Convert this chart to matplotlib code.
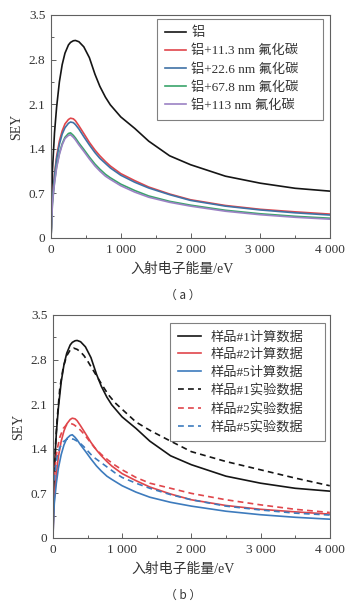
import matplotlib
matplotlib.use("Agg")
import matplotlib.pyplot as plt
from matplotlib.ticker import MultipleLocator

plt.rcParams["font.family"] = ["Liberation Serif", "Noto Sans CJK SC"]
plt.rcParams["axes.unicode_minus"] = False

# ── 数据 ──────────────────────────────────────────
# (a) 计算曲线, 公共能量网格
energy = [0, 20, 50, 80, 120, 160, 200, 250, 280, 320, 350, 400, 470, 550, 630,
          700, 780, 850, 1000, 1200, 1400, 1700, 2000, 2500, 3000, 3500, 4000]
sey_al = [0, 1.05, 1.65, 2.05, 2.45, 2.72, 2.90, 3.03, 3.07, 3.095, 3.10, 3.08, 3.00,
          2.83, 2.57, 2.38, 2.21, 2.09, 1.90, 1.72, 1.52, 1.29, 1.15, 0.97, 0.86, 0.78, 0.735]
sey_113a = [0, 0.62, 1.00, 1.28, 1.52, 1.68, 1.79, 1.86, 1.88, 1.87, 1.84, 1.76, 1.64,
            1.50, 1.38, 1.29, 1.20, 1.13, 1.01, 0.90, 0.80, 0.69, 0.60, 0.51, 0.45, 0.41, 0.375]
sey_226 = [0, 0.60, 0.97, 1.24, 1.47, 1.63, 1.73, 1.80, 1.82, 1.81, 1.78, 1.71, 1.59,
           1.46, 1.34, 1.25, 1.17, 1.10, 0.985, 0.875, 0.785, 0.68, 0.59, 0.50, 0.44, 0.395, 0.36]
sey_678 = [0, 0.55, 0.88, 1.12, 1.33, 1.48, 1.58, 1.64, 1.65, 1.61, 1.57, 1.49, 1.39,
           1.27, 1.16, 1.08, 1.00, 0.945, 0.845, 0.745, 0.66, 0.575, 0.515, 0.435, 0.38, 0.34, 0.31]
sey_113 = [0, 0.54, 0.86, 1.10, 1.31, 1.46, 1.56, 1.61, 1.62, 1.58, 1.54, 1.46, 1.36,
           1.24, 1.13, 1.05, 0.97, 0.92, 0.82, 0.72, 0.64, 0.56, 0.50, 0.42, 0.365, 0.325, 0.295]
labels_a = ["铝", "铝+11.3 nm 氟化碳", "铝+22.6 nm 氟化碳", "铝+67.8 nm 氟化碳", "铝+113 nm 氟化碳"]

# (b) 实验数据
energy_exp = [20, 40, 60, 100, 150, 200, 250, 300, 350, 400, 450, 500, 550, 600, 700,
              800, 900, 1000, 1200, 1400, 1700, 2000, 2500, 3000, 3500, 4000]
exp_1 = [1.00, 1.50, 1.85, 2.35, 2.68, 2.86, 2.95, 2.98, 2.96, 2.92, 2.86, 2.78, 2.69,
         2.60, 2.42, 2.25, 2.12, 2.02, 1.82, 1.69, 1.52, 1.355, 1.20, 1.07, 0.94, 0.82]
exp_2 = [0.95, 1.20, 1.38, 1.58, 1.72, 1.78, 1.80, 1.78, 1.74, 1.69, 1.63, 1.56, 1.49,
         1.42, 1.31, 1.22, 1.14, 1.07, 0.95, 0.86, 0.78, 0.70, 0.60, 0.52, 0.45, 0.40]
exp_5 = [0.90, 1.12, 1.27, 1.42, 1.51, 1.55, 1.56, 1.55, 1.52, 1.48, 1.43, 1.37, 1.31,
         1.26, 1.18, 1.10, 1.02, 0.95, 0.86, 0.78, 0.68, 0.60, 0.50, 0.44, 0.39, 0.36]
labels_b = ["样品#1计算数据", "样品#2计算数据", "样品#5计算数据",
            "样品#1实验数据", "样品#2实验数据", "样品#5实验数据"]

xticks = [0, 1000, 2000, 3000, 4000]
xtick_labels = ["0", "1 000", "2 000", "3 000", "4 000"]
yticks = [0, 0.7, 1.4, 2.1, 2.8, 3.5]
ytick_labels = ["0", "0.7", "1.4", "2.1", "2.8", "3.5"]

TXT = "#333333"
EDGE = "#606060"
BLACK, RED, BLUE, GREEN, PURPLE = "#151515", "#e0464b", "#3f72a6", "#3aa46b", "#9b82c4"
BLUE_B = "#3d7bbd"


def style_axes(ax):
    ax.set_xlim(0, 4000)
    ax.set_ylim(0, 3.5)
    ax.set_xticks(xticks)
    ax.set_xticklabels(xtick_labels)
    ax.set_yticks(yticks)
    ax.set_yticklabels(ytick_labels)
    ax.xaxis.set_minor_locator(MultipleLocator(500))
    ax.yaxis.set_minor_locator(MultipleLocator(0.35))
    ax.tick_params(which="both", direction="in", top=False, right=False,
                   colors=EDGE, labelcolor=TXT, labelsize=9.5, width=0.7)
    ax.tick_params(which="major", length=3.5, pad=4)
    ax.tick_params(which="minor", length=2.5)
    for s in ax.spines.values():
        s.set_color(EDGE)
        s.set_linewidth(0.8)
    ax.set_xlabel("入射电子能量/eV", fontsize=10, color=TXT)
    ax.xaxis.set_label_coords(0.47, -0.11)
    ax.set_ylabel("SEY", fontsize=10, color=TXT, labelpad=4)


def style_legend(leg):
    leg.get_frame().set_edgecolor(EDGE)
    leg.get_frame().set_linewidth(0.8)


fig = plt.figure(figsize=(3.55, 6.11), dpi=100)

# (a)
ax1 = fig.add_axes([0.1437, 0.6105, 0.786, 0.365])
lw = 1.2
for y, c, lab in zip([sey_al, sey_113a, sey_226, sey_678, sey_113],
                     [BLACK, RED, BLUE, GREEN, PURPLE], labels_a):
    ax1.plot(energy, y, color=c, lw=lw, label=lab)
style_axes(ax1)
leg1 = ax1.legend(loc="upper left", bbox_to_anchor=(0.380, 0, 0.595, 0.982), mode="expand",
                  borderaxespad=0, fontsize=9.5, frameon=True, fancybox=False,
                  handlelength=1.6, handletextpad=0.4, labelspacing=0.42,
                  borderpad=0.6, labelcolor=TXT)
style_legend(leg1)
fig.text(0.516, 0.517, "（ a ）", ha="center", va="center", fontsize=8.5, color=TXT,
         family=["Noto Sans CJK SC"])

# (b)
ax2 = fig.add_axes([0.149, 0.1195, 0.780, 0.365])
dash = (0, (3.5, 2.5))
ax2.plot(energy, sey_al, color=BLACK, lw=lw, label=labels_b[0])
ax2.plot(energy, sey_113a, color=RED, lw=lw, label=labels_b[1])
ax2.plot(energy, sey_113, color=BLUE_B, lw=lw, label=labels_b[2])
ax2.plot(energy_exp, exp_1, color=BLACK, lw=lw, ls=dash, label=labels_b[3])
ax2.plot(energy_exp, exp_2, color=RED, lw=lw, ls=dash, label=labels_b[4])
ax2.plot(energy_exp, exp_5, color=BLUE_B, lw=lw, ls=dash, label=labels_b[5])
style_axes(ax2)
leg2 = ax2.legend(loc="upper left", bbox_to_anchor=(0.422, 0, 0.560, 0.964), mode="expand",
                  borderaxespad=0, fontsize=9.5, frameon=True, fancybox=False,
                  handlelength=1.8, handletextpad=0.7, labelspacing=0.40,
                  borderpad=0.6, labelcolor=TXT)
style_legend(leg2)
fig.text(0.516, 0.026, "（ b ）", ha="center", va="center", fontsize=8.5, color=TXT,
         family=["Noto Sans CJK SC"])

fig.savefig("out.png", dpi=100)
